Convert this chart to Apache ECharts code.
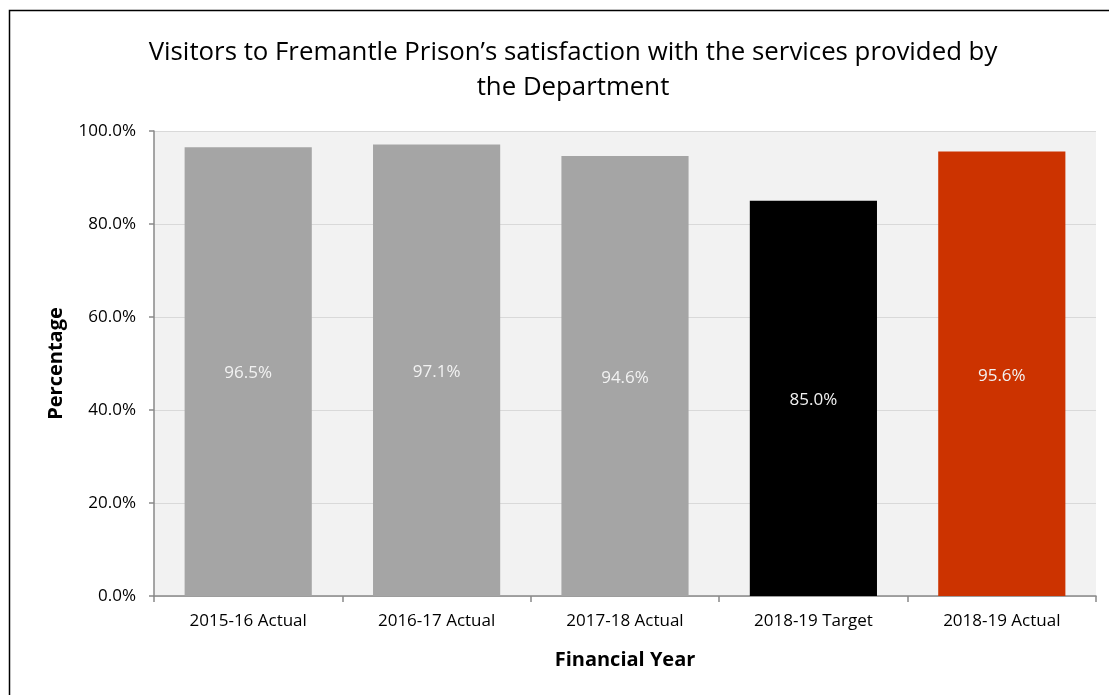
<!DOCTYPE html>
<html><head><meta charset="utf-8">
<script src="https://cdn.jsdelivr.net/npm/echarts@6/dist/echarts.min.js"></script>
<style>html,body{margin:0;padding:0;background:#fff}#c{width:1109px;height:695px}</style>
</head><body><div id="c"></div>
<script>
const categories = ['2015-16 Actual','2016-17 Actual','2017-18 Actual','2018-19 Target','2018-19 Actual'];
const values = [96.5, 97.1, 94.6, 85.0, 95.6];
const barColors = ['#a5a5a5','#a5a5a5','#a5a5a5','#000000','#cc3300'];
const titleText = 'Visitors to Fremantle Prison\u2019s satisfaction with the services provided by\nthe Department';
const font = 'Open Sans, Noto Sans, Liberation Sans, sans-serif';

const chart = echarts.init(document.getElementById('c'), null, {renderer:'canvas'});
chart.setOption({
  animation:false,
  textStyle:{fontFamily:font},
  title:{text:titleText,left:568,top:30,textAlign:'center',
    textStyle:{fontFamily:font,fontSize:25.8,fontWeight:'normal',color:'#000',lineHeight:35}},
  graphic:[{type:'rect',shape:{x:9.5,y:10.5,width:1200,height:800},
    style:{fill:'none',stroke:'#000',lineWidth:1.5},silent:true}],
  grid:{left:154,right:13,top:131,bottom:99,show:true,backgroundColor:'#f2f2f2',borderWidth:0},
  xAxis:{type:'category',data:categories,
    name:'Financial Year',nameLocation:'middle',nameGap:54,
    nameTextStyle:{fontFamily:font,fontSize:20,fontWeight:'bold',color:'#000'},
    axisLine:{lineStyle:{color:'#898989',width:1.5}},
    axisTick:{show:true,length:6,lineStyle:{color:'#898989',width:1.5}},
    axisLabel:{fontFamily:font,fontSize:17,color:'#000',margin:17}},
  yAxis:{type:'value',min:0,max:100,interval:20,
    name:'Percentage',nameLocation:'middle',nameGap:88,
    nameTextStyle:{fontFamily:font,fontSize:20,fontWeight:'bold',color:'#000'},
    axisLine:{show:true,lineStyle:{color:'#898989',width:1.5}},
    axisTick:{show:true,length:5,lineStyle:{color:'#898989',width:1.5}},
    axisLabel:{fontFamily:font,fontSize:17,color:'#000',margin:18,
      formatter:v=>v.toFixed(1)+'%'},
    splitLine:{show:true,lineStyle:{color:'#d9d9d9',width:1}}},
  series:[{type:'bar',barWidth:'67.5%',
    data:values.map((v,i)=>({value:v,itemStyle:{color:barColors[i]}})),
    label:{show:true,position:'inside',offset:[0,2],color:'#f2f2f2',fontFamily:font,fontSize:17,
      formatter:p=>p.value.toFixed(1)+'%'}}]
});
</script></body></html>
